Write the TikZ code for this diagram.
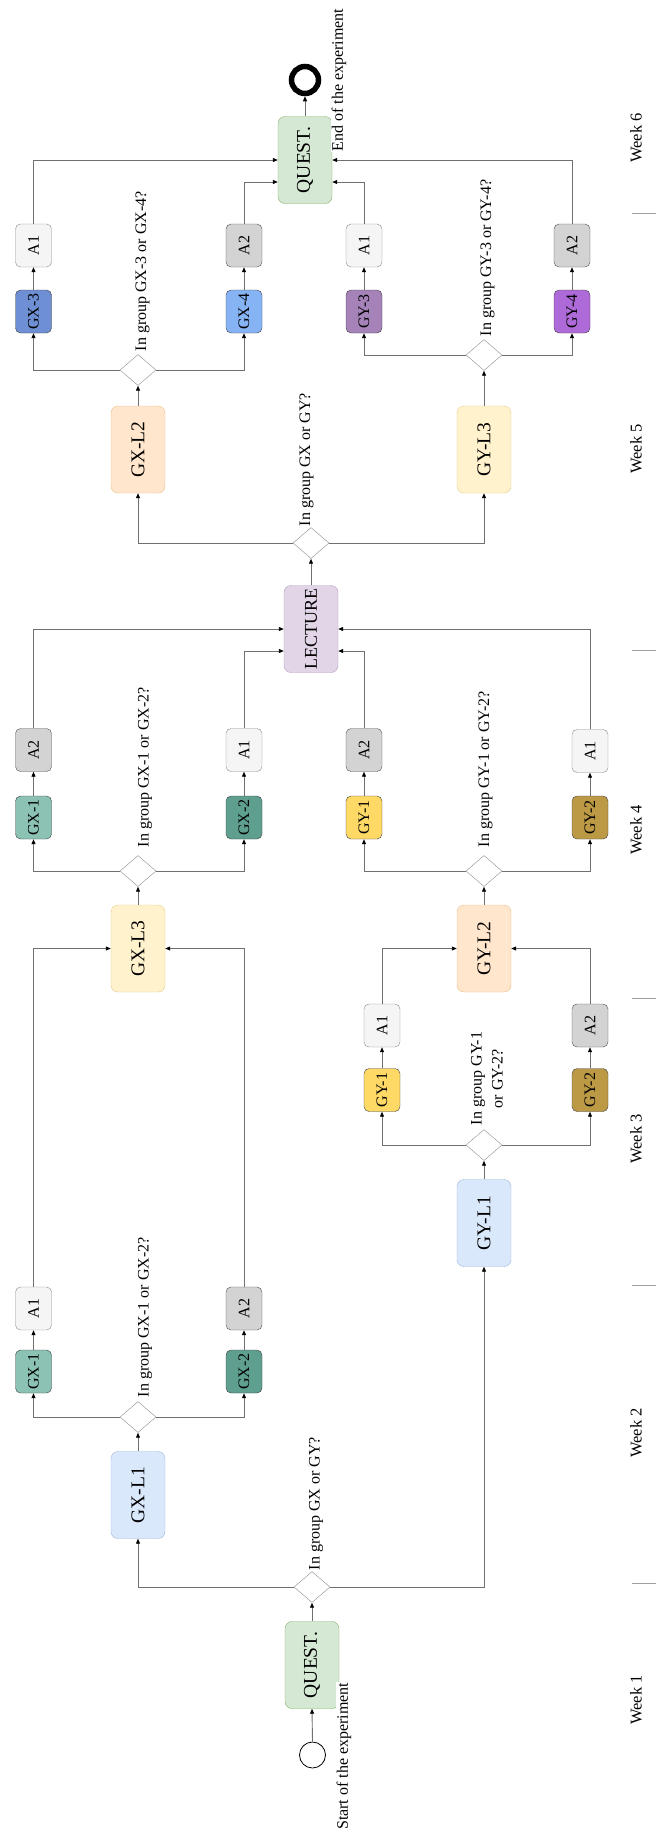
\documentclass[tikz,border=0pt]{standalone}
\usepackage{fontspec}
\setmainfont{Liberation Serif}
\usetikzlibrary{shapes.geometric,arrows.meta,calc}

\definecolor{questfill}{HTML}{D5E8D4}\definecolor{questdraw}{HTML}{82B366}
\definecolor{bluefill}{HTML}{DAE8FC}\definecolor{bluedraw}{HTML}{9DB5D8}
\definecolor{yelfill}{HTML}{FFF2CC}\definecolor{yeldraw}{HTML}{E3CC8A}
\definecolor{orafill}{HTML}{FFE6CC}\definecolor{oradraw}{HTML}{E8BE86}
\definecolor{lecfill}{HTML}{E1D5E7}\definecolor{lecdraw}{HTML}{B49CC2}
\definecolor{aonefill}{HTML}{F5F5F5}\definecolor{aonedraw}{HTML}{8A8A8A}
\definecolor{atwofill}{HTML}{D3D3D3}\definecolor{atwodraw}{HTML}{505050}
\definecolor{gxone}{HTML}{8CC2B4}\definecolor{gxtwo}{HTML}{5E9F8F}
\definecolor{gyone}{HTML}{FFD966}\definecolor{gytwo}{HTML}{BC9A45}
\definecolor{gxthree}{HTML}{6E8FD3}\definecolor{gxfour}{HTML}{86B3F4}
\definecolor{gythree}{HTML}{A582B8}\definecolor{gyfour}{HTML}{AE6AD8}
\definecolor{linecol}{HTML}{707070}
\definecolor{sepcol}{HTML}{A0A0A0}

\newcommand{\vtext}[1]{\rotatebox{90}{#1}}

\begin{document}
\begin{tikzpicture}[x=1pt,y=-1pt,
  big/.style={draw, rounded corners=7pt, minimum width=54pt, minimum height=87pt,
    inner sep=0pt, font=\fontsize{19.5}{21}\selectfont},
  small/.style={draw, rounded corners=5pt, minimum width=36pt, minimum height=43pt,
    inner sep=0pt, font=\fontsize{16}{17}\selectfont},
  aone/.style={small, fill=aonefill, draw=aonedraw},
  atwo/.style={small, fill=atwofill, draw=atwodraw},
  grp/.style={small, draw=black!75},
  dec/.style={diamond, draw=linecol!80, fill=white, minimum width=36pt,
    minimum height=31pt, inner sep=0pt},
  lab/.style={font=\fontsize{16}{21}\selectfont, inner sep=0.5pt},
  wk/.style={font=\fontsize{16.5}{18}\selectfont, inner sep=0pt},
  arr/.style={draw=linecol, line width=0.9pt,
    -{Triangle[length=5pt,width=4pt,color=black]}},
  sep/.style={draw=sepcol, line width=0.9pt}]

\useasboundingbox (0,0) rectangle (656,1832);

% start, first questionnaire and first split
\node[circle, draw=black, line width=0.8pt, minimum size=26pt, inner sep=0pt] (s) at (312.5,1755) {};
\node[big, fill=questfill, draw=questdraw] (q1) at (312,1665) {\vtext{QUEST.}};
\node[dec] (d1) at (312,1587) {};
\node[lab, fill=white, anchor=north] (ls) at (344,1682) {\vtext{Start of the experiment}};
\node[lab, anchor=south] (l1) at (316,1571) {\vtext{In group GX or GY?}};

% weeks 2-4, group GX
\node[big, fill=bluefill, draw=bluedraw] (gxl1) at (138,1495) {\vtext{GX-L1}};
\node[dec] (d2) at (138,1417) {};
\node[lab, anchor=south] (l2) at (145,1398) {\vtext{In group GX-1 or GX-2?}};
\node[grp, fill=gxone] (gx1a) at (33.5,1371.5) {\vtext{GX-1}};
\node[aone] (a1a) at (33.5,1308.5) {\vtext{A1}};
\node[grp, fill=gxtwo] (gx2a) at (244,1371.5) {\vtext{GX-2}};
\node[atwo] (a2a) at (244,1308.5) {\vtext{A2}};
\node[big, fill=yelfill, draw=yeldraw] (gxl3) at (138,948.5) {\vtext{GX-L3}};
\node[dec] (d4) at (138,871) {};
\node[lab, anchor=south] (l4) at (145,848) {\vtext{In group GX-1 or GX-2?}};
\node[grp, fill=gxone] (gx1b) at (33.5,817.5) {\vtext{GX-1}};
\node[atwo] (a2c) at (33.5,750) {\vtext{A2}};
\node[grp, fill=gxtwo] (gx2b) at (244,817.5) {\vtext{GX-2}};
\node[aone] (a1c) at (244,750) {\vtext{A1}};

% weeks 2-4, group GY
\node[big, fill=bluefill, draw=bluedraw] (gyl1) at (484,1223) {\vtext{GY-L1}};
\node[dec] (d3) at (484,1145) {};
\node[lab, anchor=center] (l3) at (488,1078.5)
  {\vtext{\begin{tabular}{@{}c@{}}In group GY-1\\or GY-2?\end{tabular}}};
\node[grp, fill=gyone] (gy1a) at (382,1090) {\vtext{GY-1}};
\node[aone] (a1b) at (382,1025.5) {\vtext{A1}};
\node[grp, fill=gytwo] (gy2a) at (590,1090) {\vtext{GY-2}};
\node[atwo] (a2b) at (590,1025.5) {\vtext{A2}};
\node[big, fill=orafill, draw=oradraw] (gyl2) at (484,948.5) {\vtext{GY-L2}};
\node[dec] (d5) at (484,871) {};
\node[lab, anchor=south] (l5) at (485.5,848) {\vtext{In group GY-1 or GY-2?}};
\node[grp, fill=gyone] (gy1b) at (364,817.5) {\vtext{GY-1}};
\node[atwo] (a2d) at (364,750) {\vtext{A2}};
\node[grp, fill=gytwo] (gy2b) at (590,817.5) {\vtext{GY-2}};
\node[aone] (a1d) at (590,751) {\vtext{A1}};

% common lecture and second split
\node[big, fill=lecfill, draw=lecdraw, font=\fontsize{18}{20}\selectfont] (lec) at (311,629) {\vtext{LECTURE}};
\node[dec] (d6) at (311,543) {};
\node[lab, anchor=south] (l6) at (306.5,527) {\vtext{In group GX or GY?}};

% week 5
\node[big, fill=orafill, draw=oradraw] (gxl2) at (138,449.5) {\vtext{GX-L2}};
\node[dec] (d7) at (138,370) {};
\node[lab, anchor=south] (l7) at (142.5,352) {\vtext{In group GX-3 or GX-4?}};
\node[grp, fill=gxthree] (gx3) at (33.5,311.5) {\vtext{GX-3}};
\node[aone] (a1e) at (33.5,245.5) {\vtext{A1}};
\node[grp, fill=gxfour] (gx4) at (244,311.5) {\vtext{GX-4}};
\node[atwo] (a2e) at (244,245.5) {\vtext{A2}};

\node[big, fill=yelfill, draw=yeldraw] (gyl3) at (484,449.5) {\vtext{GY-L3}};
\node[dec] (d8) at (484,355) {};
\node[lab, anchor=south] (l8) at (487.5,337) {\vtext{In group GY-3 or GY-4?}};
\node[grp, fill=gythree] (gy3) at (364,311.5) {\vtext{GY-3}};
\node[aone] (a1f) at (364,245.5) {\vtext{A1}};
\node[grp, fill=gyfour] (gy4) at (572,311.5) {\vtext{GY-4}};
\node[atwo] (a2f) at (572,245.5) {\vtext{A2}};

% final questionnaire and end
\node[big, fill=questfill, draw=questdraw] (q2) at (305,160) {\vtext{QUEST.}};
\node[circle, draw=black, line width=5.5pt, minimum size=27pt, inner sep=0pt] (e) at (305,80) {};
\node[lab, fill=white, anchor=south] (le) at (339,152) {\vtext{End of the experiment}};

% connectors
\draw[arr] (s.north) -- (q1.south);
\draw[arr] (q1.north) -- (d1.south);
\draw[arr] (d1.west) -| (gxl1.south);
\draw[arr] (d1.east) -| (gyl1.south);

\draw[arr] (gxl1.north) -- (d2.south);
\draw[arr] (d2.west) -| (gx1a.south);
\draw[arr] (d2.east) -| (gx2a.south);
\draw[arr] (gx1a.north) -- (a1a.south);
\draw[arr] (gx2a.north) -- (a2a.south);
\draw[arr] (a1a.north) |- (gxl3.west);
\draw[arr] (a2a.north) |- (gxl3.east);

\draw[arr] (gyl1.north) -- (d3.south);
\draw[arr] (d3.west) -| (gy1a.south);
\draw[arr] (d3.east) -| (gy2a.south);
\draw[arr] (gy1a.north) -- (a1b.south);
\draw[arr] (gy2a.north) -- (a2b.south);
\draw[arr] (a1b.north) |- (gyl2.west);
\draw[arr] (a2b.north) |- (gyl2.east);

\draw[arr] (gxl3.north) -- (d4.south);
\draw[arr] (d4.west) -| (gx1b.south);
\draw[arr] (d4.east) -| (gx2b.south);
\draw[arr] (gx1b.north) -- (a2c.south);
\draw[arr] (gx2b.north) -- (a1c.south);

\draw[arr] (gyl2.north) -- (d5.south);
\draw[arr] (d5.west) -| (gy1b.south);
\draw[arr] (d5.east) -| (gy2b.south);
\draw[arr] (gy1b.north) -- (a2d.south);
\draw[arr] (gy2b.north) -- (a1d.south);

\draw[arr] (a2c.north) |- (lec.west);
\draw[arr] (a1c.north) |- ($(lec.west)+(0,22)$);
\draw[arr] (a2d.north) |- ($(lec.east)+(0,22)$);
\draw[arr] (a1d.north) |- (lec.east);

\draw[arr] (lec.north) -- (d6.south);
\draw[arr] (d6.west) -| (gxl2.south);
\draw[arr] (d6.east) -| (gyl3.south);

\draw[arr] (gxl2.north) -- (d7.south);
\draw[arr] (d7.west) -| (gx3.south);
\draw[arr] (d7.east) -| (gx4.south);
\draw[arr] (gx3.north) -- (a1e.south);
\draw[arr] (gx4.north) -- (a2e.south);

\draw[arr] (gyl3.north) -- (d8.south);
\draw[arr] (d8.west) -| (gy3.south);
\draw[arr] (d8.east) -| (gy4.south);
\draw[arr] (gy3.north) -- (a1f.south);
\draw[arr] (gy4.north) -- (a2f.south);

\draw[arr] (a1e.north) |- (q2.west);
\draw[arr] (a2e.north) |- ($(q2.west)+(0,22)$);
\draw[arr] (a1f.north) |- ($(q2.east)+(0,22)$);
\draw[arr] (a2f.north) |- (q2.east);
\draw[arr] (q2.north) -- (e.south);

% week scale
\foreach \yy in {213,650,998,1285,1583} \draw[sep] (632,\yy) -- (656,\yy);
\node[wk] (w6) at (636,138) {\vtext{Week 6}};
\node[wk] (w5) at (636,449) {\vtext{Week 5}};
\node[wk] (w4) at (636,830) {\vtext{Week 4}};
\node[wk] (w3) at (636,1139) {\vtext{Week 3}};
\node[wk] (w2) at (636,1433) {\vtext{Week 2}};
\node[wk] (w1) at (636,1700) {\vtext{Week 1}};
\end{tikzpicture}
\end{document}
